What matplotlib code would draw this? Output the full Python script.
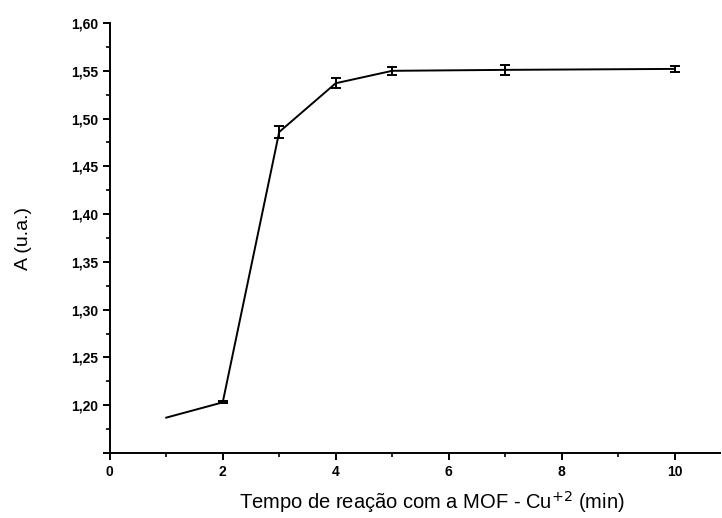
import matplotlib
matplotlib.use('Agg')
import matplotlib.pyplot as plt
import numpy as np
from matplotlib.ticker import MultipleLocator, FuncFormatter

# Dados
tempo = [1, 2, 3, 4, 5, 7, 10]
absorbancia = [1.187, 1.203, 1.486, 1.537, 1.550, 1.551, 1.552]
erro = [np.nan, 0.001, 0.006, 0.005, 0.004, 0.005, 0.003]

plt.rcParams['font.family'] = ['Liberation Sans', 'DejaVu Sans']


def virgula(v, p):
    # pas de label pour 1,15 (comme sur l'original)
    if abs(v - 1.15) < 1e-6:
        return ''
    return f'{v:.2f}'.replace('.', ',')


fig = plt.figure(figsize=(7.22, 5.18), dpi=100)
ax = fig.add_axes([0.152, 0.1255, 0.845, 0.830])

ax.errorbar(tempo, absorbancia, yerr=erro, color='black', linewidth=1.4,
            elinewidth=1.4, capsize=3.5, capthick=1.4)

ax.set_xlim(0, 10.8)
ax.set_ylim(1.15, 1.60)
ax.xaxis.set_major_locator(MultipleLocator(2))
ax.xaxis.set_minor_locator(MultipleLocator(1))
ax.yaxis.set_major_locator(MultipleLocator(0.05))
ax.yaxis.set_minor_locator(MultipleLocator(0.025))
ax.yaxis.set_major_formatter(FuncFormatter(virgula))

ax.spines['top'].set_visible(False)
ax.spines['right'].set_visible(False)
ax.spines['left'].set_linewidth(1.4)
ax.spines['bottom'].set_linewidth(1.4)
ax.tick_params(which='major', direction='out', length=5, width=1.4, labelsize=10)
ax.tick_params(which='minor', direction='out', length=3, width=1.2)
for lbl in ax.get_xticklabels() + ax.get_yticklabels():
    lbl.set_fontweight('bold')

ax.set_xlabel('Tempo de reação com a MOF - Cu$^{+2}$ (min)', fontsize=14.5)
ax.xaxis.set_label_coords(0.528, -0.085)
ax.set_ylabel('A (u.a.)', fontsize=14, labelpad=28)

fig.savefig('out.png', dpi=100)
